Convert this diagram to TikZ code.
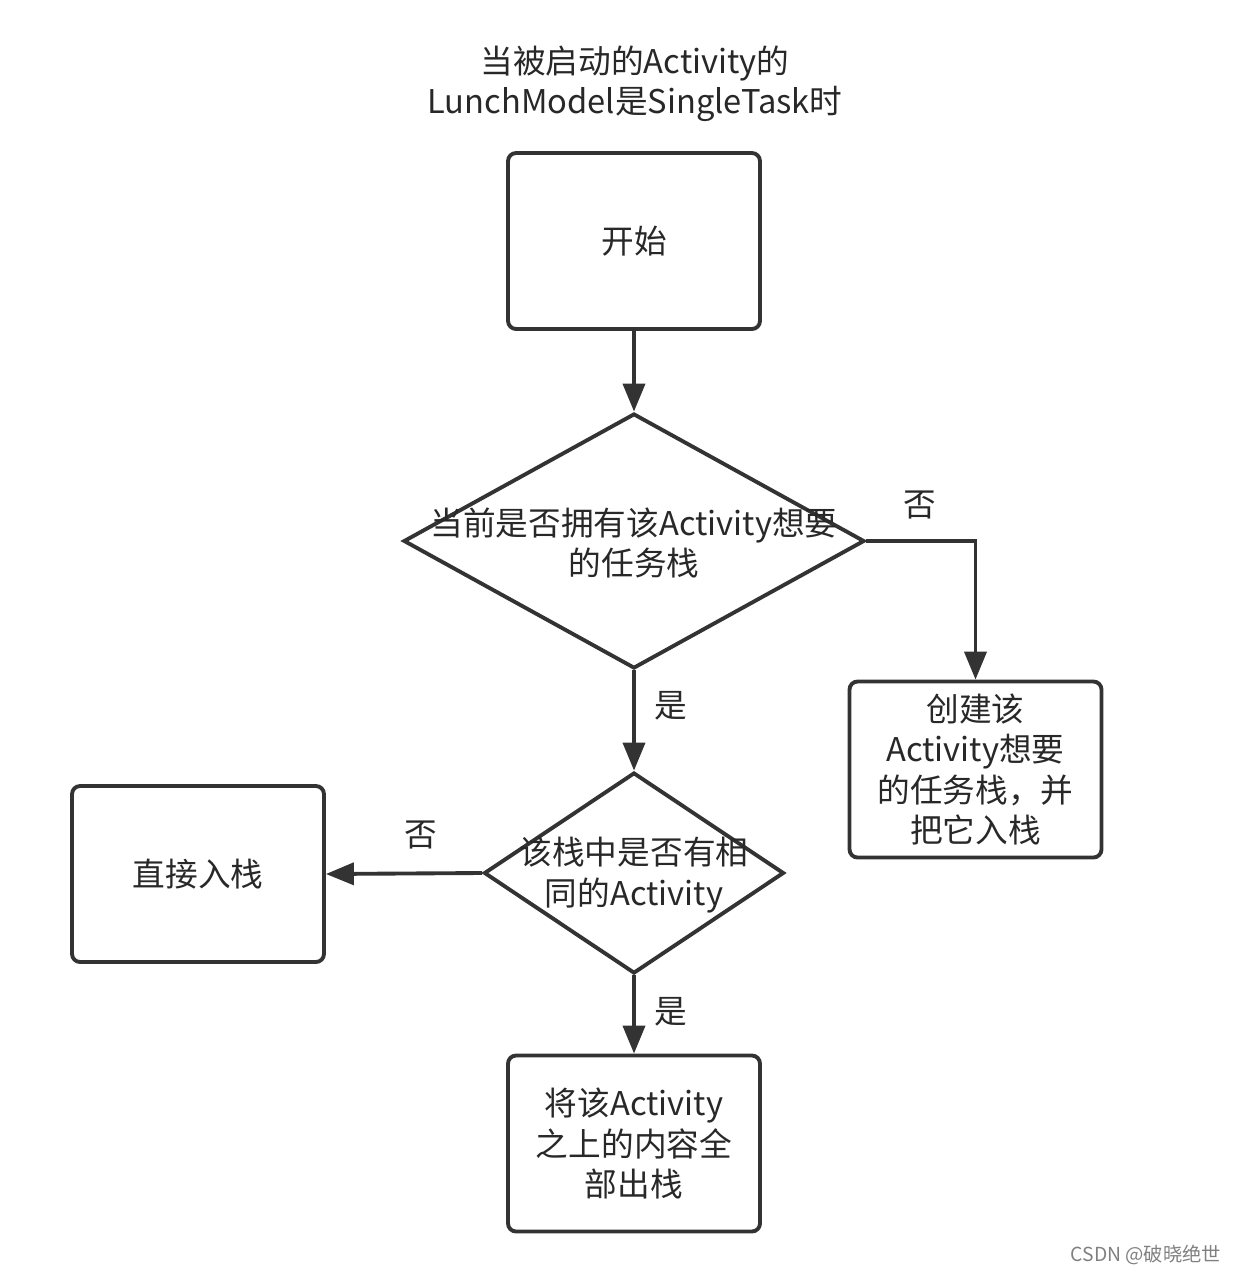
\documentclass[tikz,border=0pt]{standalone}
\usepackage{fontspec}
\usepackage{xcolor}
\usepackage{tikz}
\usetikzlibrary{shapes.geometric, arrows.meta, positioning}
\newfontfamily\cjk{Noto Sans CJK SC}
\definecolor{linegray}{RGB}{51,51,51}
\definecolor{textgray}{RGB}{40,40,40}
\tikzset{
    box/.style={rectangle, rounded corners=0.16cm, minimum width=5.04cm, minimum height=3.52cm, text centered, draw=linegray, line width=2.2pt, align=center, font=\cjk\fontsize{18.6}{22.8}\selectfont, text=textgray},
    decision/.style={diamond, draw=linegray, line width=2.2pt, inner sep=0pt},
    txt/.style={align=center, font=\cjk\fontsize{18.6}{22.8}\selectfont, text=textgray},
    arrow/.style={-{Triangle[length=0.56cm, width=0.44cm]}, line width=2.2pt, linegray}
}
\begin{document}
\begin{tikzpicture}[x=0.02cm, y=-0.02cm]
    \useasboundingbox (0,0) rectangle (1238,1275);
    % Title
    \node[txt] (title) at (635,84) {当被启动的Activity的\\LunchModel是SingleTask时};
    % Start
    \node[box] (start) at (634,241) {开始};
    % First check
    \node[decision, minimum width=9.22cm, minimum height=5.1cm] (check1) at (634,541) {};
    \node[txt] (check1txt) at (634,543) {当前是否拥有该Activity想要\\的任务栈};
    % Create stack
    \node[box] (create) at (975.5,769.5) {创建该\\Activity想要\\的任务栈，并\\把它入栈};
    % Second check
    \node[decision, minimum width=6cm, minimum height=4.02cm] (check2) at (634,873) {};
    \node[txt] (check2txt) at (634,875) {该栈中是否有相\\同的Activity};
    % Push directly
    \node[box] (push) at (198,874) {直接入栈};
    % Pop above
    \node[box] (pop) at (634,1143.5) {将该Activity\\之上的内容全\\部出栈};

    % Connections
    \draw[arrow] (start) -- (check1);
    \draw[arrow] (check1.east) -| (create.north);
    \draw[arrow] (check1) -- (check2);
    \draw[arrow] (check2.west) -- (push.east);
    \draw[arrow] (check2) -- (pop);

    % Labels
    \node[txt] (no1) at (920,505) {否};
    \node[txt] (yes1) at (671,706) {是};
    \node[txt] (no2) at (421,835) {否};
    \node[txt] (yes2) at (671,1012) {是};
    \node[font=\cjk\fontsize{11}{13}\selectfont, text=gray] (mark) at (1146,1255) {CSDN @破晓绝世};
\end{tikzpicture}
\end{document}
